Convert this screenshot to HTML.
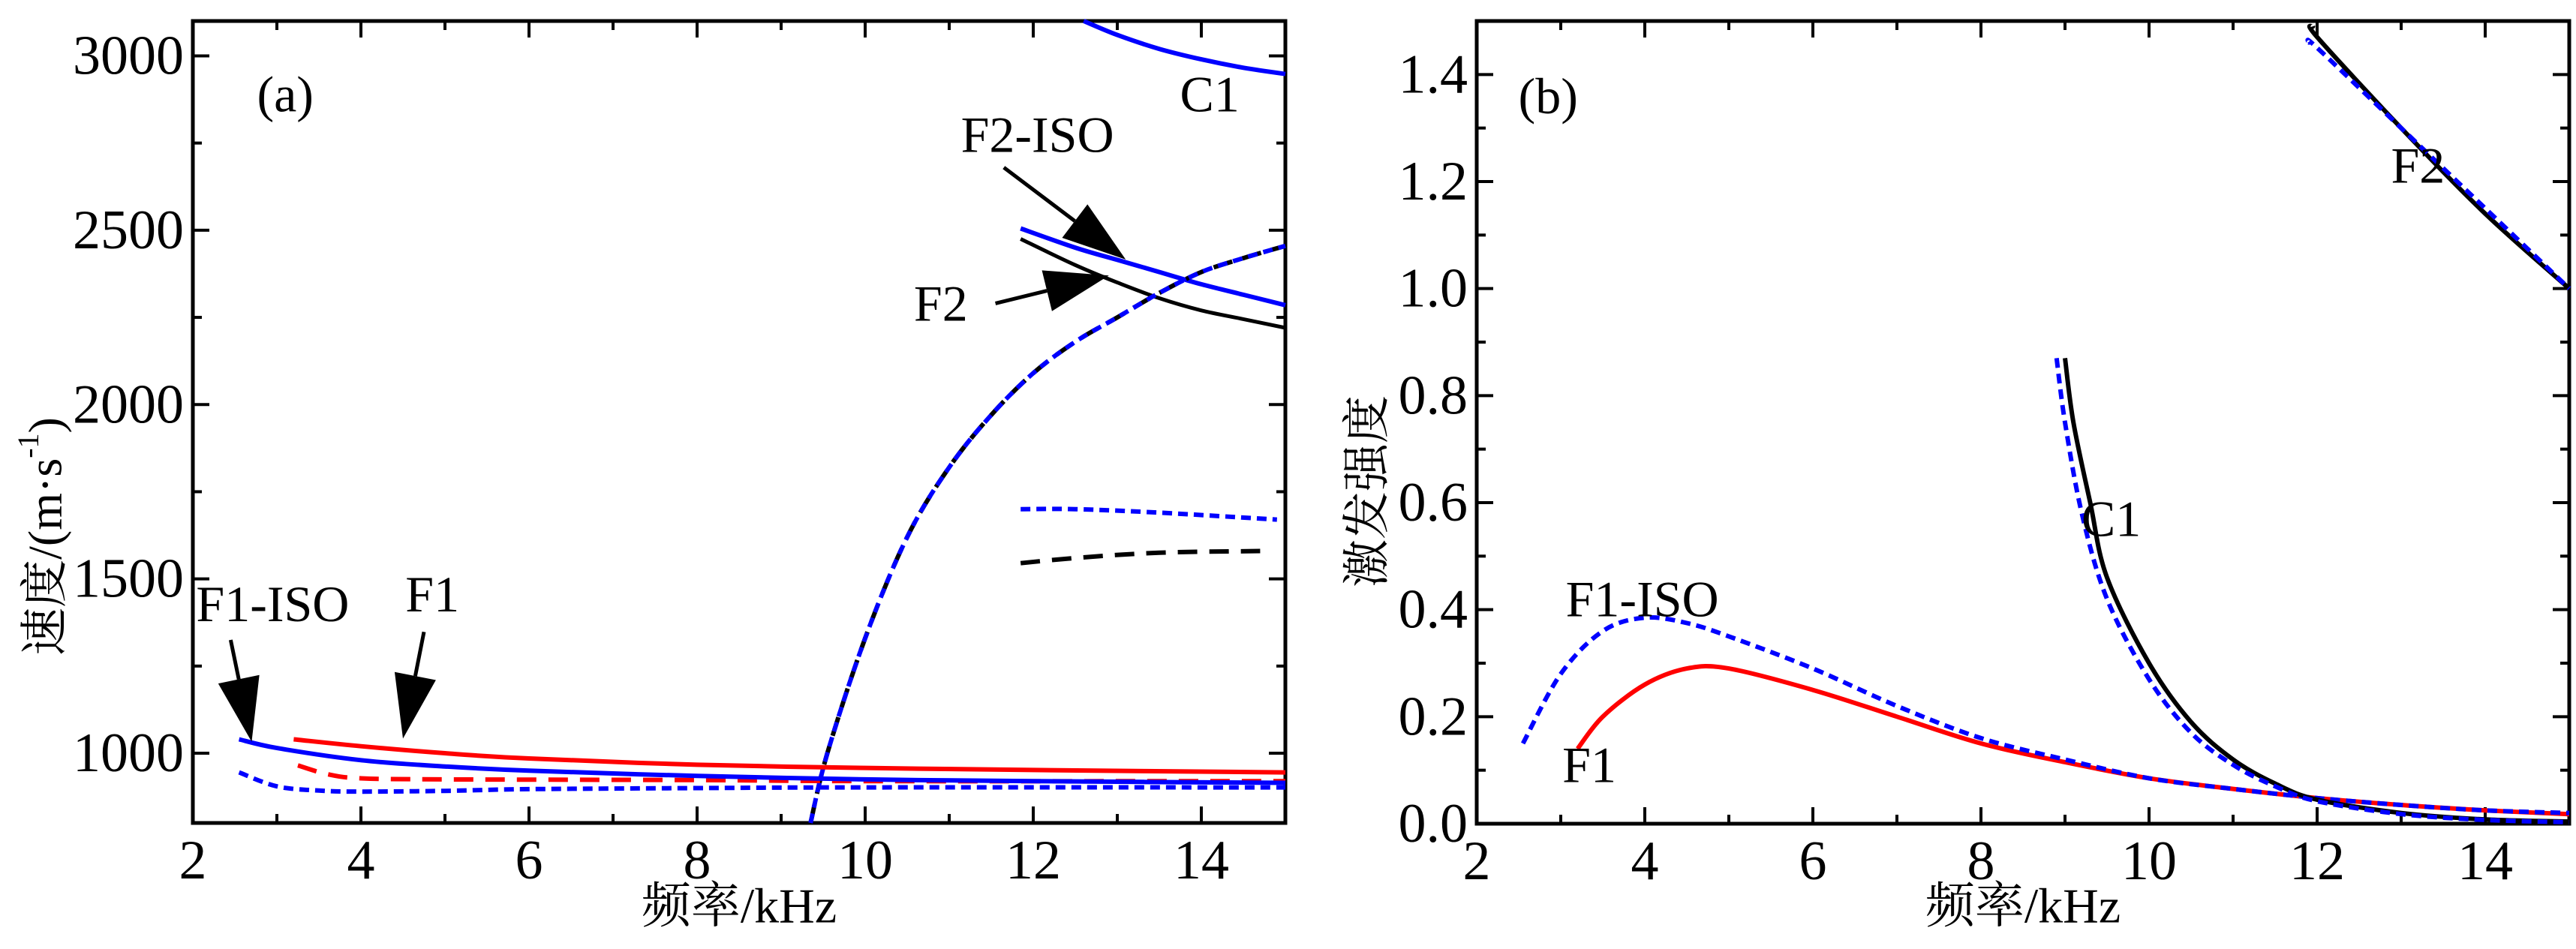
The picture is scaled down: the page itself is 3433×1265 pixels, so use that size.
<!DOCTYPE html>
<html><head><meta charset="utf-8"><style>
body{margin:0;background:#fff}
svg text{font-family:"Liberation Serif","Noto Serif CJK SC",serif;fill:#000}
</style></head><body>
<svg id="c" width="3433" height="1260" viewBox="0 0 3433 1260" xmlns="http://www.w3.org/2000/svg">
</svg>
<script>
// ---- Panel (a) data ----
const aXTicks=[2,4,6,8,10,12,14];
const aYTicks=[1000,1500,2000,2500,3000];
const aC1x=[12.6,13,13.5,14,14.5,15];            const aC1y=[3100,3060,3020,2990,2966,2948];
const aF2ISOx=[11.85,12.5,13,13.5,14,14.5,15];   const aF2ISOy=[2505,2450,2415,2380,2345,2315,2285];
const aF2x=[11.85,12.5,13,13.5,14,14.5,15];      const aF2y=[2475,2400,2350,2305,2270,2245,2220];
const aRiseX=[9.35,9.55,10,10.5,11,11.5,12,12.5,13,13.5,14,14.5,15];
const aRiseY=[800,1000,1330,1620,1820,1970,2090,2180,2250,2320,2380,2420,2455];
const aBdX=[11.85,12.5,13.5,14.9];               const aBdY=[1700,1700,1690,1670];
const aKdX=[11.85,12.5,13.5,14.7];               const aKdY=[1545,1560,1575,1580];
const aF1x=[3.2,4,5,6,8,10,12,15];               const aF1y=[1040,1020,1000,985,967,958,952,945];
const aF1ISOx=[2.55,3,4,5,6,8,10,12,15];         const aF1ISOy=[1040,1015,980,962,950,935,925,920,915];
const aRdX=[3.25,3.6,4,5,8,10,15];               const aRdY=[965,940,928,925,923,920,920];
const aBsX=[2.55,3,3.5,4,5,6,8,10,15];           const aBsY=[945,905,893,890,892,897,900,902,902];
// ---- Panel (b) data ----
const bYTicks=[0,0.2,0.4,0.6,0.8,1.0,1.2,1.4];
const bF1x=[3.2,3.5,4,4.5,5,6,7,8,9,10,11,12,13,14,15];
const bF1y=[0.14,0.2,0.26,0.29,0.29,0.25,0.2,0.15,0.115,0.085,0.065,0.048,0.035,0.025,0.018];
const bF1ISOx=[2.55,3,3.5,4,4.5,5,6,7,8,9,10,11,12,13,14,15];
const bF1ISOy=[0.15,0.28,0.36,0.385,0.375,0.35,0.29,0.22,0.16,0.12,0.085,0.065,0.048,0.035,0.025,0.02];
const bC1x=[9.0,9.1,9.3,9.5,10,10.5,11,11.5,12,13,14,15];
const bC1y=[0.87,0.75,0.6,0.46,0.3,0.19,0.12,0.075,0.045,0.02,0.008,0.004];
const bC1ISOx=[8.9,9.0,9.2,9.5,10,10.5,11,11.5,12,13,14,15];
const bC1ISOy=[0.87,0.75,0.58,0.42,0.27,0.17,0.11,0.07,0.042,0.018,0.007,0.003];
const bF2x=[11.95,12,13,14,15];   const bF2y=[1.49,1.47,1.3,1.14,1.0];
const bF2ISOx=[11.9,12,13,14,15]; const bF2ISOy=[1.46,1.45,1.3,1.15,1.0];

const svg=document.getElementById('c');const NS='http://www.w3.org/2000/svg';
function el(t,a,p){const e=document.createElementNS(NS,t);for(const k in a)e.setAttribute(k,a[k]);(p||svg).appendChild(e);return e;}
function panel(L,R,T,B,x0,x1,y0,y1){return{L,R,T,B,sx:v=>L+(v-x0)/(x1-x0)*(R-L),sy:v=>B-(v-y0)/(y1-y0)*(B-T)};}
const A=panel(257,1713,28,1097,2,15,800,3100);
const Bp=panel(1968,3424,28,1098,2,15,0,1.5);
function line(P,xs,ys,color,dash,name,w){
  const p=xs.map((x,i)=>[P.sx(x),P.sy(ys[i])]);
  let d='M'+p[0][0].toFixed(1)+','+p[0][1].toFixed(1);
  for(let i=0;i<p.length-1;i++){
    const p0=p[i-1]||p[i],p1=p[i],p2=p[i+1],p3=p[i+2]||p2;
    const c1=[p1[0]+(p2[0]-p0[0])/6,p1[1]+(p2[1]-p0[1])/6];
    const c2=[p2[0]-(p3[0]-p1[0])/6,p2[1]-(p3[1]-p1[1])/6];
    d+=` C${c1[0].toFixed(1)},${c1[1].toFixed(1)} ${c2[0].toFixed(1)},${c2[1].toFixed(1)} ${p2[0].toFixed(1)},${p2[1].toFixed(1)}`;
  }
  const e=el('path',{d,fill:'none',stroke:color,'stroke-width':w||6,'stroke-dasharray':dash||'none','stroke-linejoin':'round'});
  
  
}
function txt(x,y,s,name,extra){const e=el('text',Object.assign({x,y,'font-size':68,'text-anchor':'middle','dominant-baseline':'central'},extra||{}));e.textContent=s;
  
  return e;}
function axes(P,xt,yt,yminor,fmt,pfx){
  const f=el('rect',{x:P.L,y:P.T,width:P.R-P.L,height:P.B-P.T,fill:'none',stroke:'#000','stroke-width':5});
  
  
  for(let v=2;v<=15;v++){const X=P.sx(v),len=(v%2==0)?22:12;
    el('line',{x1:X,x2:X,y1:P.B,y2:P.B-len,stroke:'#000','stroke-width':4});
    el('line',{x1:X,x2:X,y1:P.T,y2:P.T+len,stroke:'#000','stroke-width':4});}
  xt.forEach(v=>txt(P.sx(v),P.B+50,String(v),pfx+'-x-tick-label',{'font-size':74}));
  yminor.forEach(v=>{const Y=P.sy(v);
    el('line',{x1:P.L,x2:P.L+12,y1:Y,y2:Y,stroke:'#000','stroke-width':4});
    el('line',{x1:P.R,x2:P.R-12,y1:Y,y2:Y,stroke:'#000','stroke-width':4});});
  yt.forEach(v=>{const Y=P.sy(v);
    el('line',{x1:P.L,x2:P.L+22,y1:Y,y2:Y,stroke:'#000','stroke-width':4});
    el('line',{x1:P.R,x2:P.R-22,y1:Y,y2:Y,stroke:'#000','stroke-width':4});
    txt(P.L-12,Y,fmt(v),pfx+'-y-tick-label',{'font-size':74,'text-anchor':'end'});});
  txt((P.L+P.R)/2,1208,'频率/kHz',pfx+'-x-axis-title',{'font-size':66});
}
axes(A,aXTicks,aYTicks,[1250,1750,2250,2750],v=>String(v),'a');
axes(Bp,aXTicks,bYTicks,[0.1,0.3,0.5,0.7,0.9,1.1,1.3],v=>v.toFixed(1),'b');
// y titles
let yt=txt(0,0,'速度/(m·s',"a-y-axis-title",{'font-size':64,transform:'translate(60,715) rotate(-90)'});
const sp=el('tspan',{'baseline-shift':'super','font-size':40},yt);sp.textContent='-1';
const sp2=el('tspan',{},yt);sp2.textContent=')';
txt(0,0,'激发强度','b-y-axis-title',{'font-size':64,transform:'translate(1822,655) rotate(-90)'});

const BL='#0000ff',RD='#ff0000';
// panel a series
line(A,aC1x,aC1y,BL,null,'a-c1-line');
line(A,aF2x,aF2y,'#000',null,'a-f2-line',5);
line(A,aF2ISOx,aF2ISOy,BL,null,'a-f2-iso-line');
line(A,aRiseX,aRiseY,'#000','26 14','a-rising-black-dashed');
line(A,aRiseX,aRiseY,BL,'13 8','a-rising-blue-dashed');
line(A,aBdX,aBdY,BL,'13 8','a-blue-dashed-upper');
line(A,aKdX,aKdY,'#000','26 16','a-black-dashed-upper');
line(A,aF1x,aF1y,RD,null,'a-f1-line');
line(A,aRdX,aRdY,RD,'26 16','a-f1-dashed');
line(A,aF1ISOx,aF1ISOy,BL,null,'a-f1-iso-line');
line(A,aBsX,aBsY,BL,'13 8','a-f1-iso-dashed');
// panel a annotations
txt(A.sx(3.1),A.sy(2890),'(a)','a-panel-label');
txt(A.sx(14.1),A.sy(2890),'C1','a-c1-label');
txt(A.sx(12.05),A.sy(2774),'F2-ISO','a-f2-iso-label');
txt(A.sx(10.9),A.sy(2290),'F2','a-f2-label');
txt(A.sx(2.95),A.sy(1428),'F1-ISO','a-f1-iso-label');
txt(A.sx(4.85),A.sy(1456),'F1','a-f1-label');
function arrow(P,x1,y1,x2,y2,name){
  const X1=P.sx(x1),Y1=P.sy(y1),X2=P.sx(x2),Y2=P.sy(y2);
  const dx=X2-X1,dy=Y2-Y1,l=Math.hypot(dx,dy),ux=dx/l,uy=dy/l,h=85,w=28;
  const bx=X2-ux*h,by=Y2-uy*h;
  const g=el('g',{});
  
  
  el('line',{x1:X1,y1:Y1,x2:bx,y2:by,stroke:'#000','stroke-width':5},g);
  el('polygon',{points:`${X2},${Y2} ${bx-uy*w},${by+ux*w} ${bx+uy*w},${by-ux*w}`,fill:'#000'},g);
}
arrow(A,2.45,1325,2.7,1033,'a-f1-iso-arrow');
arrow(A,4.75,1348,4.5,1042,'a-f1-arrow');
arrow(A,11.65,2680,13.1,2416,'a-f2-iso-arrow');
arrow(A,11.55,2290,12.9,2370,'a-f2-arrow');
// panel b series
line(Bp,bF1x,bF1y,RD,null,'b-f1-line');
line(Bp,bF1ISOx,bF1ISOy,BL,'13 8','b-f1-iso-line');
line(Bp,bC1x,bC1y,'#000',null,'b-c1-line');
line(Bp,bC1ISOx,bC1ISOy,BL,'13 8','b-c1-iso-line');
line(Bp,bF2x,bF2y,'#000',null,'b-f2-line');
line(Bp,bF2ISOx,bF2ISOy,BL,'13 8','b-f2-iso-line');
txt(Bp.sx(2.85),Bp.sy(1.36),'(b)','b-panel-label');
txt(Bp.sx(13.2),Bp.sy(1.23),'F2','b-f2-label');
txt(Bp.sx(9.55),Bp.sy(0.57),'C1','b-c1-label');
txt(Bp.sx(3.97),Bp.sy(0.42),'F1-ISO','b-f1-iso-label');
txt(Bp.sx(3.34),Bp.sy(0.11),'F1','b-f1-label');
</script>
</body></html>
